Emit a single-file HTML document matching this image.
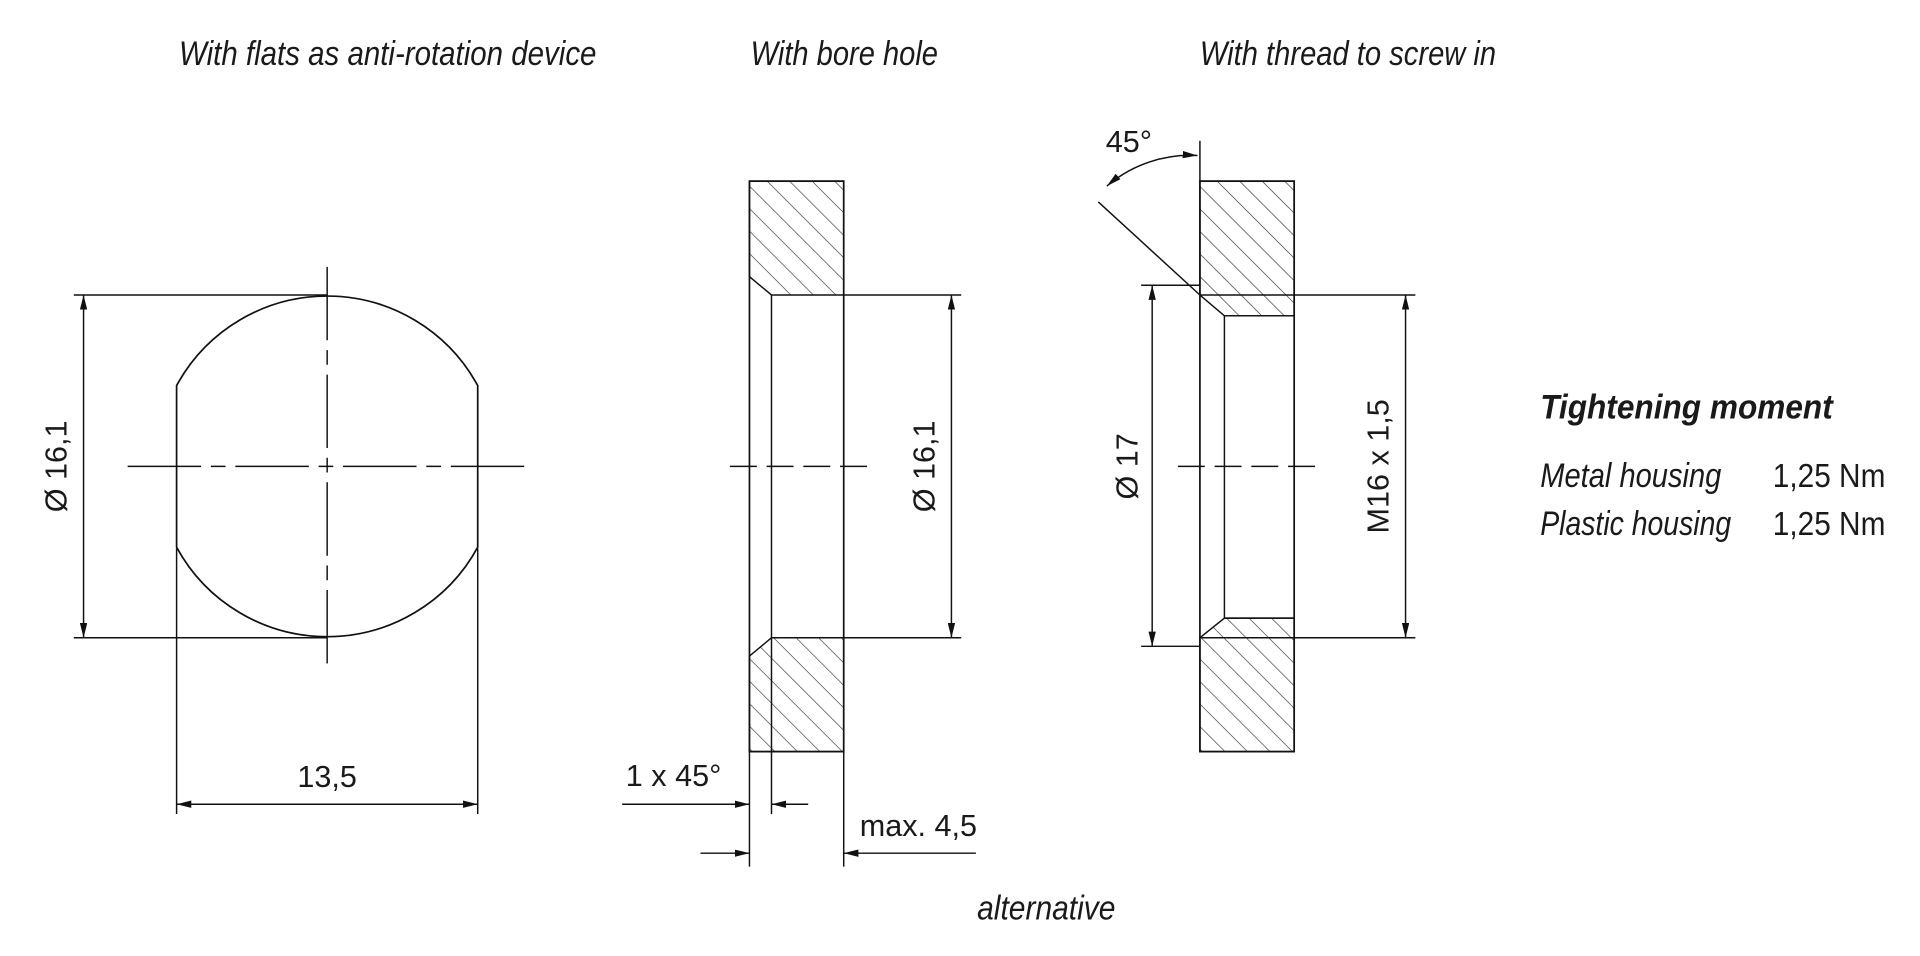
<!DOCTYPE html>
<html><head><meta charset="utf-8"><style>
html,body{margin:0;padding:0;background:#fff}
svg{display:block}
text{font-family:"Liberation Sans",sans-serif;fill:#1a1a1a}
.t{font-style:italic;font-size:28px}
.d{font-size:25px}
</style></head><body>
<svg width="1920" height="956" viewBox="0 0 1568 781" xmlns="http://www.w3.org/2000/svg">
<defs>
<pattern id="h" patternUnits="userSpaceOnUse" width="13" height="13" patternTransform="rotate(-45)">
<line x1="0" y1="0" x2="0" y2="13" stroke="#222" stroke-width="1"/>
</pattern>
<marker id="a" viewBox="0 0 12 6" refX="12" refY="3" markerWidth="12" markerHeight="6" orient="auto-start-reverse" markerUnits="userSpaceOnUse">
<path d="M0,0 L12,3 L0,6 z" fill="#111"/>
</marker>
</defs>
<g stroke="#111" stroke-width="1.2" fill="none">
<path d="M144,315 A140,140 0 0 1 390,315 L390,447 A140,140 0 0 1 144,447 Z" stroke-width="1.4"/>
<line x1="104" y1="381" x2="430" y2="381" stroke-dasharray="60,8,12,8"/>
<line x1="267" y1="218" x2="267" y2="543" stroke-dasharray="60,8,12,8"/>
<line x1="60" y1="241" x2="267" y2="241"/>
<line x1="60" y1="521" x2="267" y2="521"/>
<line x1="68" y1="241" x2="68" y2="521" marker-start="url(#a)" marker-end="url(#a)"/>
<line x1="144" y1="448" x2="144" y2="665"/>
<line x1="390" y1="448" x2="390" y2="665"/>
<line x1="144" y1="657" x2="390" y2="657" marker-start="url(#a)" marker-end="url(#a)"/>
<path d="M612,148 H689 V241 H630 L612,226 Z" fill="url(#h)"/>
<path d="M612,614 H689 V521 H630 L612,536 Z" fill="url(#h)"/>
<rect x="612" y="148" width="77" height="466" stroke-width="1.4"/>
<line x1="630" y1="241" x2="630" y2="521"/>
<line x1="596" y1="381" x2="708" y2="381" stroke-dasharray="22,8"/>
<line x1="689" y1="241" x2="785" y2="241"/>
<line x1="689" y1="521" x2="785" y2="521"/>
<line x1="777" y1="241" x2="777" y2="521" marker-start="url(#a)" marker-end="url(#a)"/>
<line x1="630" y1="521" x2="630" y2="665"/>
<line x1="612" y1="614" x2="612" y2="708"/>
<line x1="689" y1="614" x2="689" y2="708"/>
<line x1="508" y1="657" x2="612" y2="657" marker-end="url(#a)"/>
<line x1="660" y1="657" x2="630" y2="657" marker-end="url(#a)"/>
<line x1="572" y1="697" x2="612" y2="697" marker-end="url(#a)"/>
<line x1="797" y1="697" x2="689" y2="697" marker-end="url(#a)"/>
<path d="M980,148 H1057 V258 H1000 L980,241 Z" fill="url(#h)"/>
<path d="M980,614 H1057 V505 H1000 L980,521 Z" fill="url(#h)"/>
<rect x="980" y="148" width="77" height="466" stroke-width="1.4"/>
<line x1="980" y1="241" x2="1057" y2="241"/>
<line x1="1000" y1="258" x2="1057" y2="258"/>
<line x1="980" y1="521" x2="1057" y2="521"/>
<line x1="1000" y1="505" x2="1057" y2="505"/>
<line x1="1000" y1="258" x2="1000" y2="505"/>
<line x1="962" y1="381" x2="1075" y2="381" stroke-dasharray="22,8"/>
<line x1="1057" y1="241" x2="1156" y2="241"/>
<line x1="1057" y1="521" x2="1156" y2="521"/>
<line x1="1148" y1="241" x2="1148" y2="521" marker-start="url(#a)" marker-end="url(#a)"/>
<line x1="932" y1="233" x2="980" y2="233"/>
<line x1="932" y1="528" x2="980" y2="528"/>
<line x1="941" y1="233" x2="941" y2="528" marker-start="url(#a)" marker-end="url(#a)"/>
<line x1="980" y1="115" x2="980" y2="148"/>
<line x1="897" y1="165" x2="980" y2="241"/>
<path d="M904,152 A105,105 0 0 1 978,127" marker-start="url(#a)" marker-end="url(#a)"/>
</g>
<text class="t" x="146" y="53" textLength="341" lengthAdjust="spacingAndGlyphs">With flats as anti-rotation device</text>
<text class="t" x="613" y="53" textLength="153" lengthAdjust="spacingAndGlyphs">With bore hole</text>
<text class="t" x="980" y="53" textLength="242" lengthAdjust="spacingAndGlyphs">With thread to screw in</text>
<text class="d" x="267" y="643" text-anchor="middle">13,5</text>
<text class="d" transform="translate(54,381) rotate(-90)" text-anchor="middle">Ø 16,1</text>
<text class="d" transform="translate(763,381) rotate(-90)" text-anchor="middle">Ø 16,1</text>
<text class="d" transform="translate(929,381) rotate(-90)" text-anchor="middle">Ø 17</text>
<text class="d" transform="translate(1134,381) rotate(-90)" text-anchor="middle">M16 x 1,5</text>
<text class="d" x="550" y="642" text-anchor="middle">1 x 45°</text>
<text class="d" x="750" y="683" text-anchor="middle">max. 4,5</text>
<text class="d" x="922" y="124" text-anchor="middle">45°</text>
<text class="t" x="798" y="751" textLength="113" lengthAdjust="spacingAndGlyphs">alternative</text>
<text x="1258" y="342" textLength="239" lengthAdjust="spacingAndGlyphs" style="font-style:italic;font-weight:bold;font-size:28px">Tightening moment</text>
<text class="t" x="1258" y="398" textLength="148" lengthAdjust="spacingAndGlyphs">Metal housing</text>
<text class="t" x="1258" y="437" textLength="156" lengthAdjust="spacingAndGlyphs">Plastic housing</text>
<text class="d" x="1448" y="398" textLength="92" lengthAdjust="spacingAndGlyphs" style="font-size:27px">1,25 Nm</text>
<text class="d" x="1448" y="437" textLength="92" lengthAdjust="spacingAndGlyphs" style="font-size:27px">1,25 Nm</text>
</svg>
</body></html>
